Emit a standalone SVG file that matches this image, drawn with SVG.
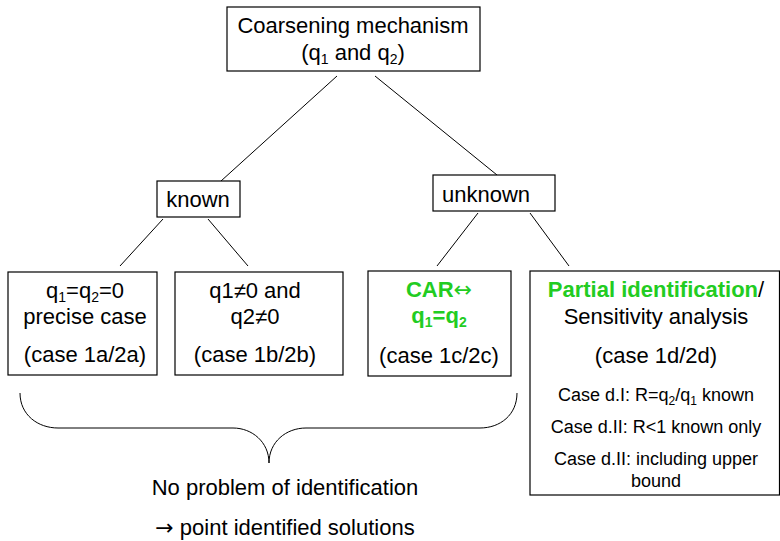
<svg xmlns="http://www.w3.org/2000/svg" width="780" height="541" viewBox="0 0 780 541">
<style>
text{font-family:"Liberation Sans",Arial,sans-serif;font-size:22px;fill:#000;text-anchor:middle}
.sm{font-size:18px}
.g{fill:#22cc22;font-weight:bold}
.sub{font-size:14px}
.ssub{font-size:12px}
.ar{font-family:"DejaVu Sans",sans-serif;font-weight:normal}
rect{fill:#fff;stroke:#000;stroke-width:1.2}
.c{fill:none;stroke:#000;stroke-width:1}
</style>
<g id="connectors">
<line class="c" x1="337" y1="76" x2="221" y2="181"/>
<line class="c" x1="375" y1="76" x2="497" y2="175"/>
<line class="c" x1="163" y1="219" x2="120" y2="266"/>
<line class="c" x1="208" y1="219" x2="248" y2="266"/>
<line class="c" x1="478" y1="213" x2="437" y2="266"/>
<line class="c" x1="530" y1="213" x2="569" y2="266"/>
<path class="c" d="M20,393 C20,415 38,428 58,428 L233,428 C252,428 269,442 269,463 C269,442 286,428 306,428 L480,428 C500,428 517,415 517,393"/>
</g>
<g id="root">
<rect x="227" y="7" width="253" height="64"/>
<text x="353" y="33">Coarsening mechanism</text>
<text x="353" y="60">(q<tspan class="sub" dy="4">1</tspan><tspan dy="-4"> and q</tspan><tspan class="sub" dy="4">2</tspan><tspan dy="-4">)</tspan></text>
</g>
<g id="known">
<rect x="157" y="181" width="83" height="36"/>
<text x="198" y="207">known</text>
</g>
<g id="unknown">
<rect x="433" y="175" width="122" height="36"/>
<text x="442" y="202" style="text-anchor:start">unknown</text>
</g>
<g id="case-a">
<rect x="8" y="272" width="149" height="103"/>
<text x="85" y="298">q<tspan class="sub" dy="4">1</tspan><tspan dy="-4">=q</tspan><tspan class="sub" dy="4">2</tspan><tspan dy="-4">=0</tspan></text>
<text x="85" y="324">precise case</text>
<text x="85" y="362">(case 1a/2a)</text>
</g>
<g id="case-b">
<rect x="175" y="272" width="168" height="103"/>
<text x="255" y="298">q1≠0 and</text>
<text x="255" y="324">q2≠0</text>
<text x="255" y="362">(case 1b/2b)</text>
</g>
<g id="case-c">
<rect x="368" y="271" width="143" height="105"/>
<text x="439" y="297"><tspan class="g">CAR</tspan><tspan class="ar" style="fill:#22cc22">↔</tspan></text>
<text x="439" y="323" class="g">q<tspan class="sub" dy="4">1</tspan><tspan dy="-4">=q</tspan><tspan class="sub" dy="4">2</tspan></text>
<text x="439" y="363">(case 1c/2c)</text>
</g>
<g id="case-d">
<rect x="530" y="271" width="249.5" height="224"/>
<text x="656" y="297"><tspan class="g">Partial identification</tspan>/</text>
<text x="656" y="324">Sensitivity analysis</text>
<text x="656" y="363">(case 1d/2d)</text>
<text x="656" y="401" class="sm">Case d.I: R=q<tspan class="ssub" dy="4">2</tspan><tspan dy="-4">/q</tspan><tspan class="ssub" dy="4">1</tspan><tspan dy="-4"> known</tspan></text>
<text x="656" y="433" class="sm">Case d.II: R&lt;1 known only</text>
<text x="656" y="465" class="sm">Case d.II: including upper</text>
<text x="656" y="487" class="sm">bound</text>
</g>
<g id="summary">
<text x="285" y="495">No problem of identification</text>
<text x="285" y="535"><tspan class="ar">→</tspan> point identified solutions</text>
</g>
</svg>
